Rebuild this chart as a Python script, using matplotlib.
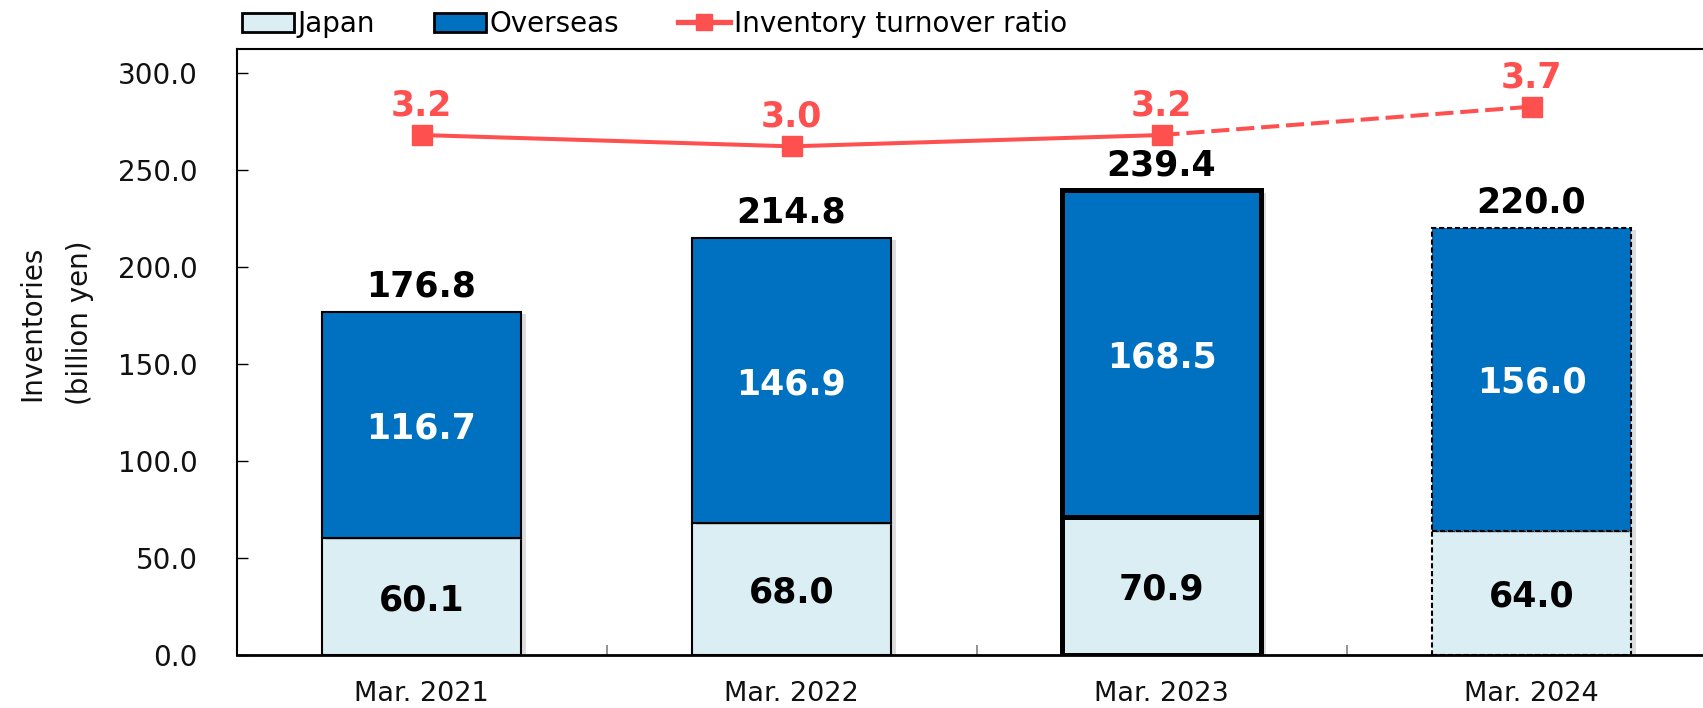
import numpy as np
import matplotlib
matplotlib.use("Agg")
import matplotlib.pyplot as plt
import matplotlib.patheffects as pe
from matplotlib.patches import Patch
from matplotlib.lines import Line2D

# ---- data ----
categories = ["Mar. 2021", "Mar. 2022", "Mar. 2023", "Mar. 2024"]
japan = [60.1, 68.0, 70.9, 64.0]
overseas = [116.7, 146.9, 168.5, 156.0]
totals = [176.8, 214.8, 239.4, 220.0]
turnover = [3.2, 3.0, 3.2, 3.7]
yticks = [0, 50, 100, 150, 200, 250, 300]

LIGHT = "#DAEEF3"
DARK = "#0070C0"
RED = "#FF5050"

plt.rcParams["font.family"] = ["DejaVu Sans"]

W, H = 1703, 708
fig = plt.figure(figsize=(W / 100, H / 100), dpi=100)
ax = fig.add_axes([236.5 / W, 1 - 655 / H, 1480 / W, (655 - 49) / H])

x = np.arange(len(categories))
bw = 0.54
shadow = [pe.SimplePatchShadow(offset=(3, -1.5), shadow_rgbFace="#909090", alpha=0.3), pe.Normal()]

b1 = ax.bar(x, japan, width=bw, color=LIGHT, edgecolor="black", linewidth=1.5, zorder=2)
b2 = ax.bar(x, overseas, width=bw, bottom=japan, color=DARK, edgecolor="black", linewidth=1.5, zorder=2)
for bars in (b1, b2):
    for i, p in enumerate(bars):
        p.set_path_effects(shadow)
        if i == 2:
            p.set_linewidth(3.6)
        if i == 3:
            p.set_linestyle((0, (2.5, 1.3)))

# segment labels
for i in range(len(categories)):
    ax.text(x[i], japan[i] / 2, f"{japan[i]:.1f}", ha="center", va="center_baseline",
            fontsize=25, fontweight="bold", color="black", zorder=4)
    ax.text(x[i], japan[i] + overseas[i] / 2, f"{overseas[i]:.1f}", ha="center", va="center_baseline",
            fontsize=25, fontweight="bold", color="white", zorder=4)
    ax.annotate(f"{totals[i]:.1f}", (x[i], totals[i]), xytext=(0, 11), textcoords="offset points",
                ha="center", va="baseline", fontsize=25, fontweight="bold", color="black", zorder=4)

ax.set_xlim(-0.5, 3.5)
ax.set_ylim(0, 312.3)
ax.set_yticks(yticks)
ax.set_yticklabels([f"{v:.1f}" for v in yticks])
ax.set_xticks(x)
ax.set_xticklabels(categories)
ax.set_xticks([0.5, 1.5, 2.5], minor=True)
ax.tick_params(axis="x", which="major", length=0, pad=19, labelsize=19.5, labelcolor="#111111")
ax.tick_params(axis="x", which="minor", direction="in", length=7, width=1.2, color="#808080")
ax.tick_params(axis="y", direction="in", length=8, width=1, pad=28, labelsize=20, labelcolor="#111111")
for s in ("left", "top", "right"):
    ax.spines[s].set_linewidth(1.5)
ax.spines["bottom"].set_linewidth(2)

# secondary axis for turnover ratio
ax2 = ax.twinx()
ax2.set_ylim(-5.97, 4.717)
ax2.set_yticks([])
for s in ax2.spines.values():
    s.set_visible(False)
ax2.plot(x[:3], turnover[:3], color=RED, lw=2.9, solid_capstyle="butt", zorder=3)
ax2.plot(x[2:], turnover[2:], color=RED, lw=2.9, linestyle=(0, (4.5, 1.7)), zorder=3)
ax2.plot(x, turnover, linestyle="none", marker="s", markersize=14, color=RED, zorder=4)
for i in range(len(categories)):
    ax2.annotate(f"{turnover[i]:.1f}", (x[i], turnover[i]), xytext=(0, 14), textcoords="offset points",
                 ha="center", va="baseline", fontsize=25, fontweight="bold", color=RED)

# y label
fig.text(32 / W, 1 - 323 / H, "Inventories", rotation=90, ha="center", va="center",
         fontsize=20, color="#111111")
fig.text(80 / W, 1 - 323 / H, "(billion yen)", rotation=90, ha="center", va="center",
         fontsize=20, color="#111111")

# legend
handles = [
    Patch(facecolor=LIGHT, edgecolor="black", linewidth=2),
    Patch(facecolor=DARK, edgecolor="black", linewidth=2),
    Line2D([], [], color=RED, lw=3.8, marker="s", markersize=12),
]
fig.legend(handles, ["Japan", "Overseas", "Inventory turnover ratio"], ncol=3,
           loc="center left", bbox_to_anchor=(241.7 / W, 1 - 24 / H), frameon=False,
           borderpad=0, borderaxespad=0, handlelength=1.87, handleheight=0.65,
           handletextpad=0.15, columnspacing=2.1,
           prop={"family": "DejaVu Sans", "size": 20})

fig.savefig("out.png", dpi=100)
